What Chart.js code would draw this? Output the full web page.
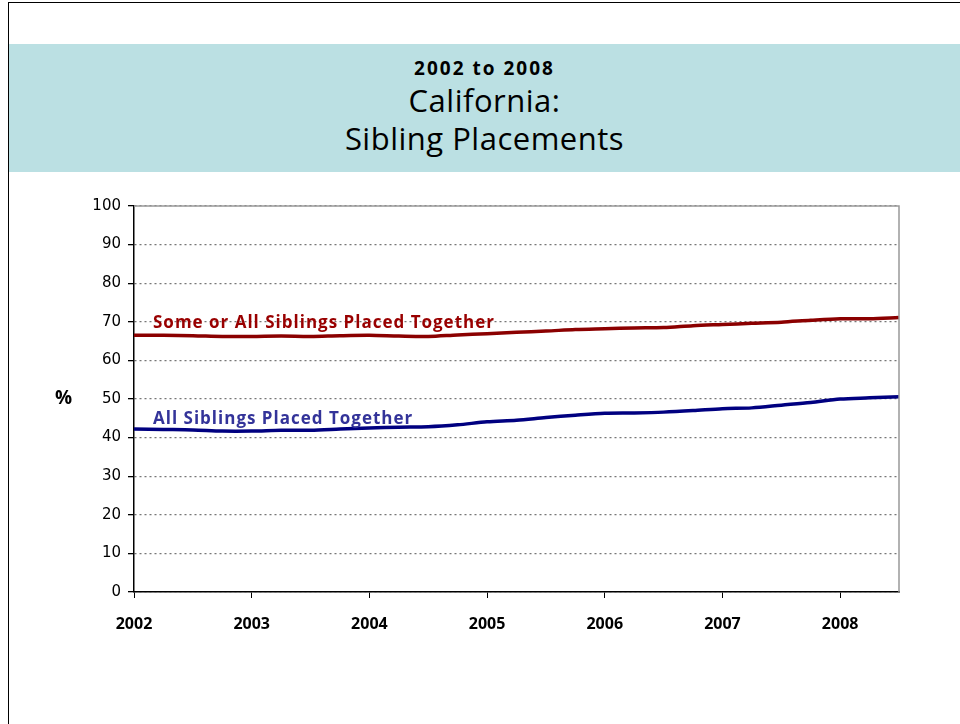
<!DOCTYPE html>
<html>
<head>
<meta charset="utf-8">
<script src="https://cdn.jsdelivr.net/npm/chart.js@4/dist/chart.umd.min.js"></script>
<style>
  html, body { margin: 0; padding: 0; background: #fff; }
  #wrap { position: relative; width: 960px; height: 724px; overflow: hidden; background: #fff; }
  #frame { position: absolute; left: 8px; top: 2px; width: 970px; height: 740px; border-left: 1.5px solid #000; border-top: 1.5px solid #000; }
  #band { position: absolute; left: 9px; top: 44px; width: 951px; height: 128px; background: #bbe0e3; }
  .t { position: absolute; left: 9px; width: 951px; text-align: center; color: #000; font-family: "Open Sans", sans-serif; white-space: nowrap; }
  #t1 { top: 55px; font-size: 19px; font-weight: bold; letter-spacing: 2px; }
  #t2 { top: 79px; font-size: 31px; letter-spacing: 0.5px; }
  #t3 { top: 117px; font-size: 31px; letter-spacing: 0.5px; }
  #pct { position: absolute; left: 55px; top: 384px; font-family: "Open Sans", sans-serif; font-weight: bold; font-size: 19px; }
  .lab { position: absolute; font-family: "Open Sans", sans-serif; font-weight: bold; font-size: 17px; letter-spacing: 1px; white-space: nowrap; }
  #labRed { left: 153px; top: 310px; color: #990000; }
  #labBlue { left: 153px; top: 406px; color: #333399; }
  canvas { position: absolute; left: 0; top: 0; }
</style>
</head>
<body>
<div id="wrap">
  <div id="frame"></div>
  <div id="band"></div>
  <div class="t" id="t1">2002 to 2008</div>
  <div class="t" id="t2">California:</div>
  <div class="t" id="t3">Sibling Placements</div>
  <canvas id="c" width="960" height="724"></canvas>
  <div id="pct">%</div>
  <div class="lab" id="labRed">Some or All Siblings Placed Together</div>
  <div class="lab" id="labBlue">All Siblings Placed Together</div>
</div>
<script>
// Quarterly time points (year fractions)
const quarters = [2002, 2002.25, 2002.5, 2002.75, 2003, 2003.25, 2003.5, 2003.75,
  2004, 2004.25, 2004.5, 2004.75, 2005, 2005.25, 2005.5, 2005.75,
  2006, 2006.25, 2006.5, 2006.75, 2007, 2007.25, 2007.5, 2007.75,
  2008, 2008.25, 2008.5];
const someOrAll = [66.5, 66.5, 66.4, 66.2, 66.2, 66.3, 66.2, 66.4,
  66.5, 66.3, 66.2, 66.6, 66.9, 67.3, 67.6, 68.0,
  68.2, 68.4, 68.5, 69.0, 69.3, 69.6, 69.9, 70.4,
  70.8, 70.8, 71.1];
const allTogether = [42.2, 42.1, 42.0, 41.7, 41.7, 41.9, 41.9, 42.2,
  42.5, 42.7, 42.8, 43.3, 44.1, 44.5, 45.2, 45.8,
  46.3, 46.4, 46.6, 47.0, 47.5, 47.7, 48.4, 49.1,
  50.0, 50.3, 50.6];
const yearTicks = [2002, 2003, 2004, 2005, 2006, 2007, 2008];
const yMin = 0, yMax = 100, yStep = 10;

const toPts = (vals) => vals.map((v, i) => ({ x: quarters[i], y: v }));

const frameBorder = {
  id: 'frameBorder',
  afterDraw(chart) {
    const { ctx, chartArea: a } = chart;
    ctx.save();
    ctx.strokeStyle = '#999';
    ctx.lineWidth = 1.5;
    ctx.beginPath();
    ctx.moveTo(a.left, a.top);
    ctx.lineTo(a.right, a.top);
    ctx.lineTo(a.right, a.bottom);
    ctx.stroke();
    ctx.restore();
  }
};

new Chart(document.getElementById('c'), {
  type: 'line',
  data: {
    datasets: [
      { label: 'Some or All Siblings Placed Together', data: toPts(someOrAll),
        borderColor: '#8b0000', borderWidth: 3.5, pointRadius: 0, tension: 0.3, fill: false },
      { label: 'All Siblings Placed Together', data: toPts(allTogether),
        borderColor: '#000080', borderWidth: 3.5, pointRadius: 0, tension: 0.3, fill: false }
    ]
  },
  options: {
    responsive: false,
    devicePixelRatio: 1,
    animation: false,
    layout: { padding: { left: 0, right: 61, top: 206, bottom: 82 } },
    plugins: { legend: { display: false }, tooltip: { enabled: false } },
    scales: {
      x: {
        type: 'linear',
        min: 2002, max: 2008.5,
        afterBuildTicks: (s) => { s.ticks = yearTicks.map(v => ({ value: v })); },
        afterFit: (s) => { s.height = 50; },
        grid: { drawOnChartArea: false, drawTicks: true, tickLength: 6, tickColor: '#000', color: '#000' },
        border: { display: true, color: '#000', width: 1.5 },
        ticks: { padding: 17, color: '#000', font: { family: 'Open Sans', weight: 'bold', size: 16 },
                 callback: (v) => String(v), maxRotation: 0, autoSkip: false }
      },
      y: {
        min: yMin, max: yMax,
        afterFit: (s) => { s.width = 134; },
        grid: { color: '#777', lineWidth: 1.3, tickLength: 6, tickColor: '#000', tickBorderDash: [] },
        border: { display: true, color: '#000', width: 1.5, dash: [2, 3] },
        ticks: { stepSize: yStep, padding: 7, color: '#000', font: { family: 'DejaVu Sans', size: 15 } }
      }
    }
  },
  plugins: [frameBorder]
});
</script>
</body>
</html>
